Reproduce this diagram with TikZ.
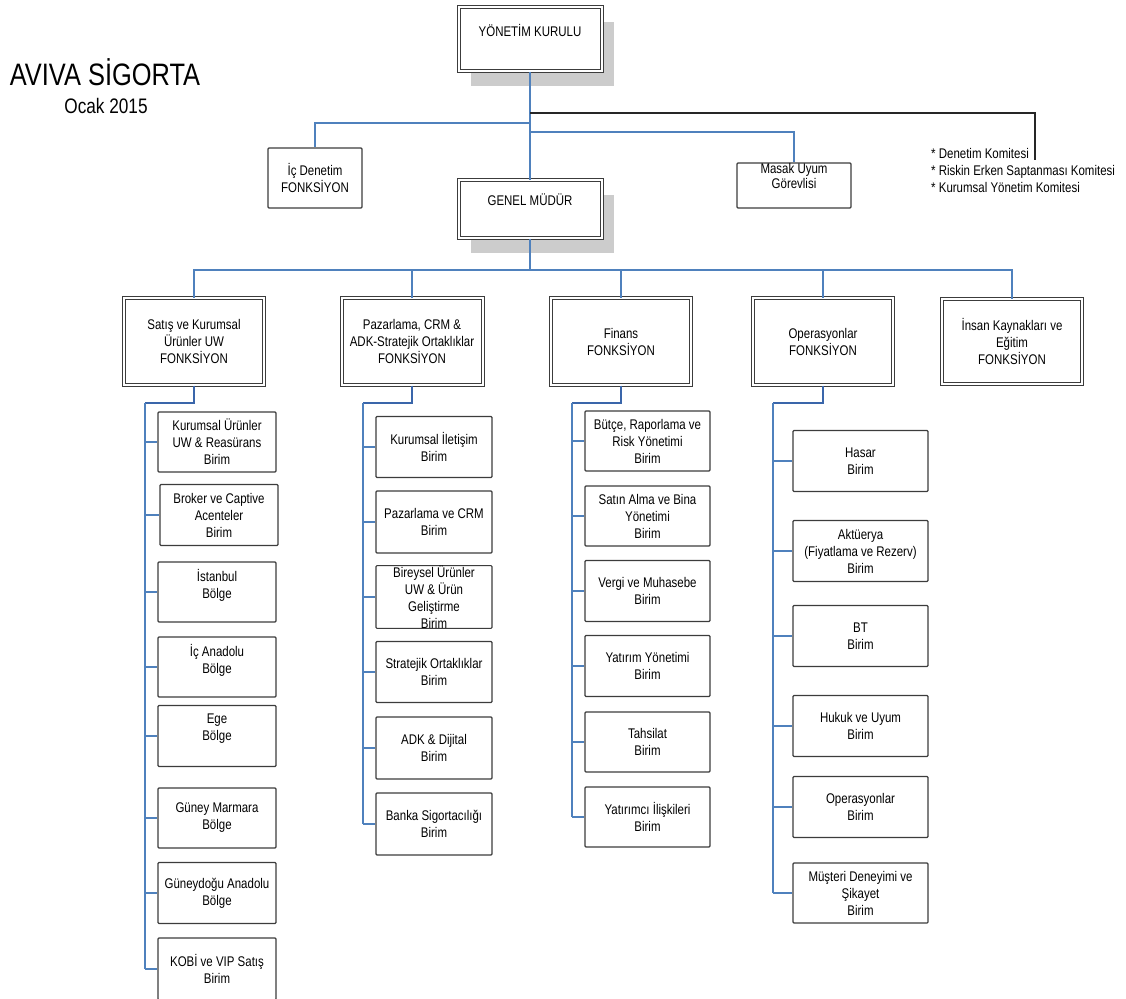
\documentclass[tikz,border=0pt]{standalone}
\usepackage{fontspec}
\setmainfont{Liberation Sans}[FakeStretch=0.82]
\definecolor{lnblue}{RGB}{79,129,189}
\definecolor{lndark}{RGB}{58,102,170}
\definecolor{bxgray}{RGB}{60,60,60}
\definecolor{shadowgray}{RGB}{204,204,204}
\newcommand\fsz{\fontsize{14}{17}\selectfont}
\tikzset{
  unit/.style={draw=bxgray, line width=1.1pt, rounded corners=1pt, fill=white, inner sep=0pt, align=center, font=\fsz},
  fbox/.style={draw=bxgray, line width=1pt, double=white, double distance=2pt, fill=white, inner sep=0pt, align=center, font=\fsz},
  topbox/.style={fbox, preaction={draw=none, fill=shadowgray, transform canvas={xshift=12pt, yshift=-15pt}}},
  txt/.style={inner sep=0pt, align=center, font=\fsz},
  conn/.style={draw=lnblue, line width=1.6pt},
  conndark/.style={draw=lndark, line width=2pt},
  blk/.style={draw=black!85, line width=1.2pt},
}
\begin{document}
\begin{tikzpicture}[x=1pt, y=-1pt]
\useasboundingbox (0,0) rectangle (1126,998);

% title
\node[inner sep=0pt, font=\fontsize{31}{36}\selectfont, anchor=base] (title) at (105,85) {AVIVA SİGORTA};
\node[inner sep=0pt, font=\fontsize{21}{25}\selectfont, anchor=base] (date) at (106,113) {Ocak 2015};

% top level
\node[topbox, minimum width=143pt, minimum height=64pt] (yk) at (530,39) {};
\node[txt] (ykt) at (530,30) {YÖNETİM KURULU};
\node[topbox, minimum width=143pt, minimum height=58pt] (gm) at (530,209) {};
\node[txt] (gmt) at (530,200) {GENEL MÜDÜR};
\node[unit, minimum width=94pt, minimum height=60pt] (ic) at (315,178) {İç Denetim\\FONKSİYON};
\node[unit, minimum width=114pt, minimum height=45pt] (mu) at (794,185.5) {};
\node[txt, font=\fontsize{14}{15.5}\selectfont] (mut) at (794,176) {Masak Uyum\\Görevlisi};
\node[inner sep=0pt, align=left, font=\fsz, anchor=north west] (cm) at (931,148)
  {* Denetim Komitesi\\* Riskin Erken Saptanması Komitesi\\* Kurumsal Yönetim Komitesi};
\coordinate (cmend) at (1035,160);

\coordinate (j0) at (530,113);
\coordinate (j1) at (530,123);
\coordinate (j2) at (530,132);
\coordinate (j3) at (530,270);

% function boxes
\node[fbox, minimum width=140pt, minimum height=87pt] (f1) at (194,341.5) {Satış ve Kurumsal\\Ürünler UW\\FONKSİYON};
\node[fbox, minimum width=141pt, minimum height=87pt] (f2) at (412,341.5) {Pazarlama, CRM \&\\ADK-Stratejik Ortaklıklar\\FONKSİYON};
\node[fbox, minimum width=140pt, minimum height=87pt] (f3) at (621,341.5) {Finans\\FONKSİYON};
\node[fbox, minimum width=140pt, minimum height=87pt] (f4) at (823,341.5) {Operasyonlar\\FONKSİYON};
\node[fbox, minimum width=140pt, minimum height=85pt] (f5) at (1012,341.5) {İnsan Kaynakları ve\\Eğitim\\FONKSİYON};

% column 1
\node[unit, minimum width=118pt, minimum height=60pt] (b11) at (217,442) {Kurumsal Ürünler\\UW \& Reasürans\\Birim};
\node[unit, minimum width=118pt, minimum height=61pt] (b12) at (219,515) {Broker ve Captive\\Acenteler\\Birim};
\node[unit, minimum width=118pt, minimum height=60pt] (b13) at (217,592) {İstanbul\\Bölge\\~};
\node[unit, minimum width=118pt, minimum height=60pt] (b14) at (217,667) {İç Anadolu\\Bölge\\~};
\node[unit, minimum width=118pt, minimum height=61pt] (b15) at (217,736) {Ege\\Bölge\\~};
\node[unit, minimum width=118pt, minimum height=60pt] (b16) at (217,818) {Güney Marmara\\Bölge};
\node[unit, minimum width=118pt, minimum height=61pt] (b17) at (217,893) {Güneydoğu Anadolu\\Bölge};
\node[unit, minimum width=118pt, minimum height=62pt] (b18) at (217,969) {KOBİ ve VIP Satış\\Birim};

% column 2
\node[unit, minimum width=116pt, minimum height=61pt] (b21) at (434,447) {Kurumsal İletişim\\Birim};
\node[unit, minimum width=116pt, minimum height=62pt] (b22) at (434,522) {Pazarlama ve CRM\\Birim};
\node[unit, minimum width=116pt, minimum height=61pt] (b23) at (434,597) {Bireysel Ürünler\\UW \& Ürün\\Geliştirme\\Birim};
\node[unit, minimum width=116pt, minimum height=61pt] (b24) at (434,672) {Stratejik Ortaklıklar\\Birim};
\node[unit, minimum width=116pt, minimum height=62pt] (b25) at (434,748) {ADK \& Dijital\\Birim};
\node[unit, minimum width=116pt, minimum height=62pt] (b26) at (434,824) {Banka Sigortacılığı\\Birim};

% column 3
\node[unit, minimum width=125pt, minimum height=60pt] (b31) at (647.5,441) {Bütçe, Raporlama ve\\Risk Yönetimi\\Birim};
\node[unit, minimum width=125pt, minimum height=60pt] (b32) at (647.5,516) {Satın Alma ve Bina\\Yönetimi\\Birim};
\node[unit, minimum width=125pt, minimum height=61pt] (b33) at (647.5,591) {Vergi ve Muhasebe\\Birim};
\node[unit, minimum width=125pt, minimum height=61pt] (b34) at (647.5,666) {Yatırım Yönetimi\\Birim};
\node[unit, minimum width=125pt, minimum height=60pt] (b35) at (647.5,742) {Tahsilat\\Birim};
\node[unit, minimum width=125pt, minimum height=60pt] (b36) at (647.5,817) {Yatırımcı İlişkileri\\Birim};

% column 4
\node[unit, minimum width=135pt, minimum height=61pt] (b41) at (860.5,461) {Hasar\\Birim};
\node[unit, minimum width=135pt, minimum height=61pt] (b42) at (860.5,551) {Aktüerya\\(Fiyatlama ve Rezerv)\\Birim};
\node[unit, minimum width=135pt, minimum height=61pt] (b43) at (860.5,636) {BT\\Birim};
\node[unit, minimum width=135pt, minimum height=61pt] (b44) at (860.5,726) {Hukuk ve Uyum\\Birim};
\node[unit, minimum width=135pt, minimum height=61pt] (b45) at (860.5,807) {Operasyonlar\\Birim};
\node[unit, minimum width=135pt, minimum height=60pt] (b46) at (860.5,893) {Müşteri Deneyimi ve\\Şikayet\\Birim};

% connectors top
\draw[conn] (yk.south) -- (gm.north);
\draw[blk] (j0) -| (cmend);
\draw[conn] (j1) -| (ic.north);
\draw[conn] (j2) -| (mu.north);
\draw[conn] (gm.south) -- (j3);
\draw[conn] (f1.north) -- (f1.north |- j3) -- (f5.north |- j3) -- (f5.north);
\foreach \f in {f2,f3,f4} \draw[conn] (\f.north |- j3) -- (\f.north);

% column connectors
\coordinate (s1) at (145,403);
\coordinate (s2) at (363,403);
\coordinate (s3) at (572,403);
\coordinate (s4) at (773,403);
\draw[conndark] (f1.south) |- (s1);
\draw[conndark] (f2.south) |- (s2);
\draw[conndark] (f3.south) |- (s3);
\draw[conndark] (f4.south) |- (s4);
\draw[conn] (s1) -- (s1 |- b18.west);
\draw[conn] (s2) -- (s2 |- b26.west);
\draw[conn] (s3) -- (s3 |- b36.west);
\draw[conn] (s4) -- (s4 |- b46.west);
\foreach \b in {b11,b12,b13,b14,b15,b16,b17,b18} \draw[conn] (s1 |- \b.west) -- (\b.west);
\foreach \b in {b21,b22,b23,b24,b25,b26} \draw[conn] (s2 |- \b.west) -- (\b.west);
\foreach \b in {b31,b32,b33,b34,b35,b36} \draw[conn] (s3 |- \b.west) -- (\b.west);
\foreach \b in {b41,b42,b43,b44,b45,b46} \draw[conn] (s4 |- \b.west) -- (\b.west);
\end{tikzpicture}
\end{document}
